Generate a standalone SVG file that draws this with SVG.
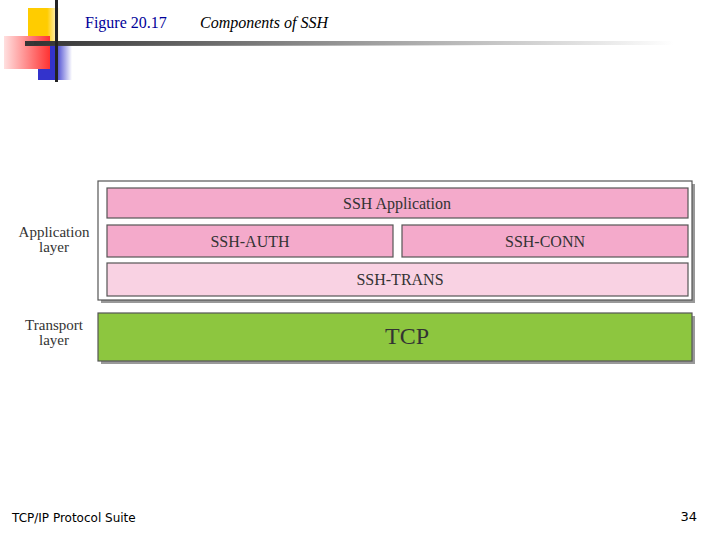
<svg xmlns="http://www.w3.org/2000/svg" width="720" height="540" viewBox="0 0 720 540">
<defs>
<linearGradient id="rule" x1="0" x2="1"><stop offset="0" stop-color="#333"/><stop offset="1" stop-color="#fff"/></linearGradient>
<linearGradient id="red" x1="1" x2="0"><stop offset="0" stop-color="#ff3333"/><stop offset="1" stop-color="#ffe0e0"/></linearGradient>
<linearGradient id="blue" x1="0" x2="1"><stop offset="0.5" stop-color="#3333cc"/><stop offset="1" stop-color="#fff"/></linearGradient>
<linearGradient id="yel" x1="0" x2="1"><stop offset="0.6" stop-color="#ffcc00"/><stop offset="1" stop-color="#fff"/></linearGradient>
</defs>
<style>
.t{font-family:"Liberation Serif",serif;fill:#333;text-anchor:middle}
.lab{font-family:"Liberation Serif",serif;font-size:15px;fill:#333;text-anchor:middle}
.box{stroke:#555;stroke-width:1.2}
.pink{fill:#f4aacb}
</style>
<rect x="28" y="8" width="32" height="34" fill="url(#yel)"/>
<rect x="38" y="42" width="34" height="38" fill="url(#blue)"/>
<rect x="4" y="36" width="46" height="33" fill="url(#red)"/>
<rect x="25" y="41" width="470" height="5" fill="url(#rule)"/>
<rect x="34" y="41" width="640" height="4" fill="url(#rule)"/>
<rect x="55" y="0" width="3" height="82" fill="#222"/>
<text x="85" y="28" font-family="Liberation Serif,serif" font-size="16" fill="#000099">Figure 20.17</text>
<text x="200" y="28" font-family="Liberation Serif,serif" font-size="16" font-style="italic" fill="#000">Components of SSH</text>
<g id="labels">
<text class="lab" x="54" y="237">Application</text>
<text class="lab" x="54" y="252">layer</text>
<text class="lab" x="54" y="330">Transport</text>
<text class="lab" x="54" y="345">layer</text>
</g>
<g id="app-layer">
<rect x="101" y="184" width="594" height="119" fill="#999"/>
<rect x="98" y="181" width="594" height="119" fill="#fff" class="box"/>
</g>
<g id="ssh-app"><rect x="107" y="188" width="581" height="30" class="box pink"/><text class="t" x="397" y="209" font-size="16">SSH Application</text></g>
<g id="ssh-auth"><rect x="107" y="225" width="286" height="32" class="box pink"/><text class="t" x="250" y="247" font-size="16">SSH-AUTH</text></g>
<g id="ssh-conn"><rect x="402" y="225" width="286" height="32" class="box pink"/><text class="t" x="545" y="247" font-size="16">SSH-CONN</text></g>
<g id="ssh-trans"><rect x="107" y="263" width="581" height="33" class="box" fill="#f9d2e3"/><text class="t" x="400" y="285" font-size="16">SSH-TRANS</text></g>
<g id="tcp"><rect x="101" y="316" width="594" height="48" fill="#999"/><rect x="98" y="313" width="594" height="48" class="box" fill="#8dc63f"/><text class="t" x="407" y="344" font-size="24" fill="#234">TCP</text></g>
<g id="connectors"/>
<text x="12" y="522" font-family="DejaVu Sans,sans-serif" font-size="12" fill="#000">TCP/IP Protocol Suite</text>
<text x="697" y="521" font-family="DejaVu Sans,sans-serif" font-size="13" fill="#000" text-anchor="end">34</text>
</svg>
